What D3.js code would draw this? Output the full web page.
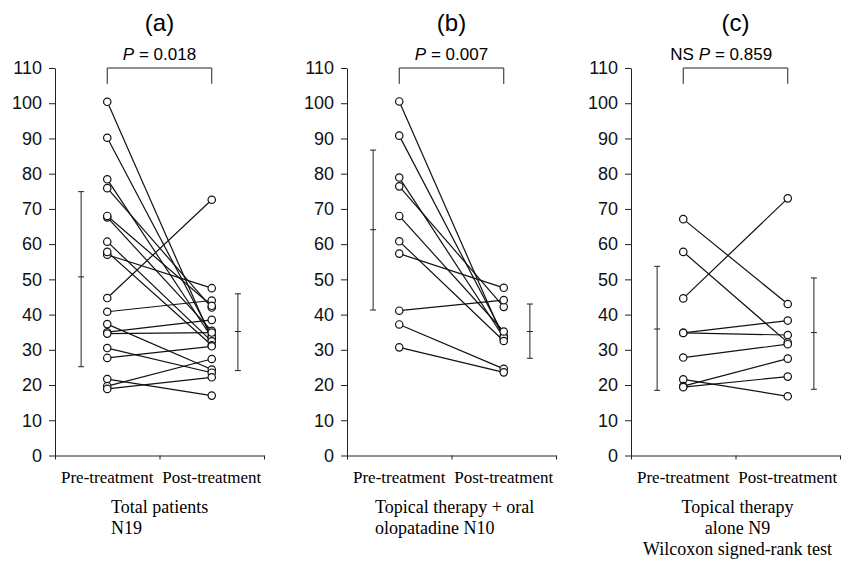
<!DOCTYPE html>
<html>
<head>
<meta charset="utf-8">
<script src="https://cdn.jsdelivr.net/npm/d3@7"></script>
<style>
  body { margin: 0; background: #fff; }
  svg { display: block; }
  .tick text { font-family: "Liberation Sans", Arial, sans-serif; font-size: 18px; fill: #111; }
  .tick line, .domain { stroke: #222; stroke-width: 1; }
</style>
</head>
<body>
<svg id="chart" width="850" height="563"></svg>
<script>
// values
var panelTitles = ['(a)', '(b)', '(c)'];
var pValues = ['0.018', '0.007', '0.859'];
var pPrefix = ['', '', 'NS'];
var groups = ['Pre-treatment', 'Post-treatment'];
var yTicks = [0, 10, 20, 30, 40, 50, 60, 70, 80, 90, 100, 110];

var aPre  = [100.4, 90.2, 78.4, 75.9, 67.6, 60.7, 57.0, 40.8, 37.3, 30.5, 68.0, 57.8, 44.7, 35.0, 34.6, 27.7, 21.7, 19.7, 18.9];
var aPost = [33.0, 34.0, 33.5, 42.0, 35.4, 32.4, 47.5, 44.0, 24.4, 23.5, 42.5, 31.3, 72.6, 38.5, 34.9, 31.0, 17.0, 27.4, 22.2];
var bPre  = [100.5, 90.8, 78.9, 76.4, 68.0, 60.8, 57.3, 41.1, 37.2, 30.7];
var bPost = [33.0, 34.0, 33.5, 42.2, 35.2, 32.5, 47.6, 44.1, 24.6, 23.6];
var cPre  = [67.1, 57.8, 44.6, 34.8, 34.8, 27.8, 21.6, 19.7, 19.4];
var cPost = [43.0, 32.1, 73.0, 38.3, 34.2, 31.6, 16.8, 27.5, 22.4];

// [low, mean, high] (mean +/- SD)
var errPre  = [[25.2, 50.7, 74.9], [41.3, 64.1, 86.7], [18.5, 35.9, 53.7]];
var errPost = [[24.1, 35.2, 45.9], [27.6, 35.2, 43.0], [18.8, 34.9, 50.4]];

var captions = [
    ['Total patients', 'N19'],
    ['Topical therapy + oral', 'olopatadine N10'],
    ['Topical therapy', 'alone N9', 'Wilcoxon signed-rank test']
];

var pres = [aPre, bPre, cPre],
    posts = [aPost, bPost, cPost];

var svg = d3.select('#chart');
var x0s = [55, 347, 631],
    w = 209,
    yTop = 68,
    yBottom = 455.5;

var y = d3.scaleLinear().domain([0, 110]).range([yBottom, yTop]);

for (let p = 0; p < 3; p++) {
    var x = d3.scaleLinear().domain([0, 4]).range([0, w]);
    var g = svg.append('g').attr('transform', 'translate(' + x0s[p] + ',0)');

    g.append('g').call(d3.axisLeft(y).tickValues(yTicks).tickSize(6).tickSizeOuter(0).tickPadding(7));
    g.append('g')
        .attr('transform', 'translate(0,' + yBottom + ')')
        .call(d3.axisBottom(x).tickValues([0, 2, 4]).tickFormat('').tickSize(4).tickSizeOuter(0));

    // title
    g.append('text')
        .attr('x', x(2)).attr('y', 31)
        .attr('text-anchor', 'middle')
        .style('font-family', '"Liberation Sans", Arial, sans-serif')
        .style('font-size', '24px')
        .text(panelTitles[p]);

    // bracket + p value
    var by = y(105.5);
    g.append('path')
        .attr('d', 'M' + x(1) + ',' + by + 'V' + y(110) + 'H' + x(3) + 'V' + by)
        .attr('fill', 'none').attr('stroke', '#222');
    var pt = g.append('text')
        .attr('x', x(2)).attr('y', 60)
        .attr('text-anchor', 'middle')
        .style('font-family', '"Liberation Sans", Arial, sans-serif')
        .style('font-size', '17px');
    pt.append('tspan').style('font-style', 'italic').text('P');
    pt.append('tspan').text(' = ' + pValues[p]);
    if (pPrefix[p]) {
        var bb = pt.node().getBBox();
        g.append('text')
            .attr('x', bb.x - 5).attr('y', 60)
            .attr('text-anchor', 'end')
            .style('font-family', '"Liberation Sans", Arial, sans-serif')
            .style('font-size', '17px')
            .text(pPrefix[p]);
    }

    // error bars
    [[0.5, errPre[p]], [3.5, errPost[p]]].forEach(function (e) {
        var ex = x(e[0]), v = e[1];
        g.append('line')
            .attr('x1', ex).attr('x2', ex)
            .attr('y1', y(v[0])).attr('y2', y(v[2]))
            .attr('stroke', '#222');
        g.selectAll(null)
            .data(v)
            .enter()
            .append('line')
            .attr('x1', ex - 3).attr('x2', ex + 3)
            .attr('y1', function (d) { return y(d); })
            .attr('y2', function (d) { return y(d); })
            .attr('stroke', '#222');
    });

    // paired lines
    var pairs = pres[p].map(function (d, i) { return [d, posts[p][i]]; });
    g.selectAll('.pair')
        .data(pairs)
        .enter()
        .append('line')
        .attr('class', 'pair')
        .attr('x1', x(1))
        .attr('y1', function (d) { return y(d[0]); })
        .attr('x2', x(3))
        .attr('y2', function (d) { return y(d[1]); })
        .attr('stroke', '#111')
        .attr('stroke-width', 1.2);

    var dots = pres[p].map(function (d) { return [1, d]; })
        .concat(posts[p].map(function (d) { return [3, d]; }));
    g.selectAll('.dot')
        .data(dots)
        .enter()
        .append('circle')
        .attr('class', 'dot')
        .attr('cx', function (d) { return x(d[0]); })
        .attr('cy', function (d) { return y(d[1]); })
        .attr('r', 3.7)
        .attr('fill', '#fff')
        .attr('stroke', '#111')
        .attr('stroke-width', 1.2);

    // group labels
    g.selectAll('.grp')
        .data(groups)
        .enter()
        .append('text')
        .attr('class', 'grp')
        .attr('x', function (d, i) { return x(i * 2 + 1); })
        .attr('y', 483)
        .attr('text-anchor', 'middle')
        .style('font-family', '"Liberation Serif", "Times New Roman", serif')
        .style('font-size', '17px')
        .text(function (d) { return d; });

    // caption
    var capAnchor = p === 2 ? 'middle' : 'start';
    var capX = p === 0 ? 56 : p === 1 ? 28 : x(2) + 2;
    g.selectAll('.cap')
        .data(captions[p])
        .enter()
        .append('text')
        .attr('class', 'cap')
        .attr('x', capX)
        .attr('y', function (d, i) { return 513 + i * 21; })
        .attr('text-anchor', capAnchor)
        .style('font-family', '"Liberation Serif", "Times New Roman", serif')
        .style('font-size', '18px')
        .text(function (d) { return d; });
}
</script>
</body>
</html>
